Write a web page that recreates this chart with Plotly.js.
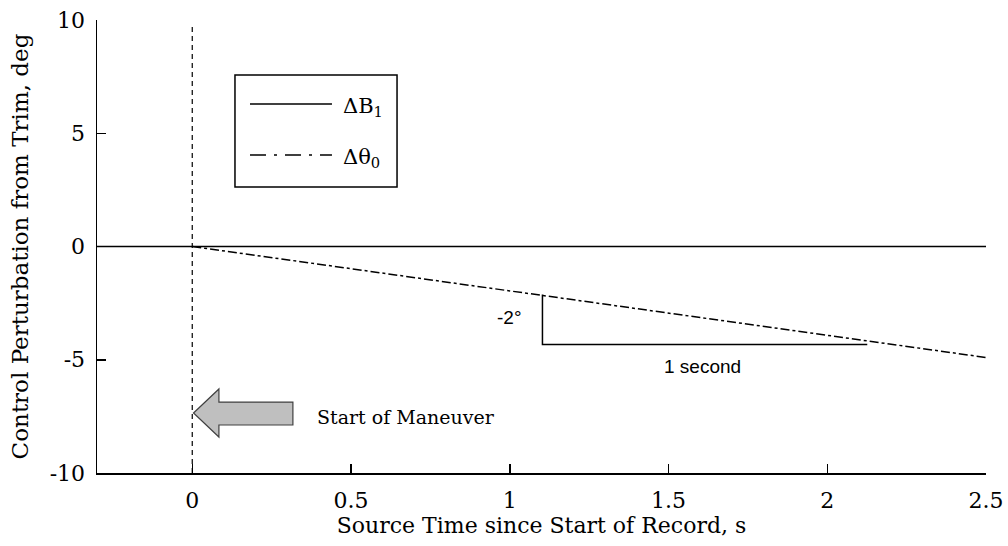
<!DOCTYPE html>
<html>
<head>
<meta charset="utf-8">
<script src="https://cdn.plot.ly/plotly-3.0.1.min.js"></script>
<style>
  html, body { margin: 0; padding: 0; background: #ffffff; }
  #chart { width: 1008px; height: 546px; }
</style>
</head>
<body>
<div id="chart"></div>
<script>
// ---- data ----
var timeB1 = [-0.3, 2.5];
var deltaB1 = [0, 0];
var timeTheta0 = [0, 2.5];
var deltaTheta0 = [0, -4.9];

var seriesNames = ['\u0394B<sub>1</sub>', '\u0394\u03b8<sub>0</sub>'];

var xTicks = [0, 0.5, 1, 1.5, 2, 2.5];
var xTickLabels = ['0', '0.5', '1', '1.5', '2', '2.5'];
var yTicks = [-10, -5, 0, 5, 10];
var yTickLabels = ['-10', '-5', '0', '5', '10'];

// start-of-maneuver marker
var maneuverX = [0, 0];
var maneuverY = [-10, 9.8];

// slope triangle (-2 deg per 1 second)
var slopeX = [1.103, 1.103, 2.126];
var slopeY = [-2.12, -4.33, -4.33];

// arrow polygon (tip, head top, body top, tail top, tail bottom, body bottom, head bottom)
var arrowX = [0.004, 0.084, 0.084, 0.317, 0.317, 0.084, 0.084];
var arrowY = [-7.35, -6.29, -6.87, -6.87, -7.88, -7.88, -8.41];

var serif = 'DejaVu Serif, Liberation Serif, serif';
var sans = 'Liberation Sans, Arial, sans-serif';

var traces = [
  {
    x: timeB1, y: deltaB1, type: 'scatter', mode: 'lines',
    name: seriesNames[0], showlegend: false,
    line: { color: '#000000', width: 1.5 }
  },
  {
    x: timeTheta0, y: deltaTheta0, type: 'scatter', mode: 'lines',
    name: seriesNames[1], showlegend: false,
    line: { color: '#000000', width: 1.5, dash: 'dashdot' }
  }
];

function pathFrom(xs, ys, close) {
  var p = '';
  for (var i = 0; i < xs.length; i++) p += (i === 0 ? 'M' : 'L') + xs[i] + ',' + ys[i];
  return close ? p + 'Z' : p;
}

// legend box drawn by hand (paper coordinates)
var legBox = { x0: 0.1552, x1: 0.3375, y0: 0.6313, y1: 0.8786 };
var legLineX = [0.1721, 0.2643];
var legRowY = [0.8146, 0.7020];
var legTextX = 0.2745;

var layout = {
  width: 1008, height: 546,
  paper_bgcolor: '#ffffff', plot_bgcolor: '#ffffff',
  margin: { l: 97, r: 22, t: 20, b: 73 },
  font: { family: serif, size: 22, color: '#000000' },
  showlegend: false,
  xaxis: {
    range: [-0.3, 2.5], showgrid: false, zeroline: false,
    showline: true, linecolor: '#000000', linewidth: 1.5, mirror: false,
    ticks: 'inside', ticklen: 9, tickwidth: 1.5, tickcolor: '#000000',
    tickmode: 'array', tickvals: xTicks, ticktext: xTickLabels,
    ticklabelstandoff: 7,
    tickfont: { family: serif, size: 22, color: '#000000' },
    title: { text: 'Source Time since Start of Record, s', font: { family: serif, size: 22, color: '#000000' }, standoff: 0 }
  },
  yaxis: {
    range: [-10, 10], showgrid: false, zeroline: false,
    showline: true, linecolor: '#000000', linewidth: 1.5, mirror: false,
    ticks: 'inside', ticklen: 9, tickwidth: 1.5, tickcolor: '#000000',
    tickmode: 'array', tickvals: yTicks, ticktext: yTickLabels,
    ticklabelstandoff: 6,
    tickfont: { family: serif, size: 22, color: '#000000' },
    title: { text: 'Control Perturbation from Trim, deg', font: { family: serif, size: 23, color: '#000000' }, standoff: 14 }
  },
  shapes: [
    { type: 'line', xref: 'x', yref: 'y', x0: maneuverX[0], x1: maneuverX[1], y0: maneuverY[0], y1: maneuverY[1],
      line: { color: '#000000', width: 1.2, dash: '5px,4px' } },
    { type: 'path', xref: 'x', yref: 'y', path: pathFrom(slopeX, slopeY, false),
      line: { color: '#000000', width: 1.5 } },
    { type: 'path', xref: 'x', yref: 'y', path: pathFrom(arrowX, arrowY, true),
      fillcolor: '#bfbfbf', line: { color: '#404040', width: 1.2 } },
    // legend
    { type: 'rect', xref: 'paper', yref: 'paper', x0: legBox.x0, x1: legBox.x1, y0: legBox.y0, y1: legBox.y1,
      fillcolor: '#ffffff', line: { color: '#000000', width: 1.5 } },
    { type: 'line', xref: 'paper', yref: 'paper', x0: legLineX[0], x1: legLineX[1], y0: legRowY[0], y1: legRowY[0],
      line: { color: '#000000', width: 1.5 } },
    { type: 'line', xref: 'paper', yref: 'paper', x0: legLineX[0], x1: legLineX[1], y0: legRowY[1], y1: legRowY[1],
      line: { color: '#000000', width: 1.5, dash: '16px,8px,3px,8px' } }
  ],
  annotations: [
    { xref: 'x', yref: 'y', x: 0.673, y: -7.53, text: 'Start of Maneuver', showarrow: false,
      font: { family: serif, size: 19, color: '#000000' } },
    { xref: 'x', yref: 'y', x: 1.0, y: -3.15, text: '-2\u00b0', showarrow: false,
      font: { family: sans, size: 19, color: '#000000' } },
    { xref: 'x', yref: 'y', x: 1.607, y: -5.3, text: '1 second', showarrow: false,
      font: { family: sans, size: 19, color: '#000000' } },
    { xref: 'paper', yref: 'paper', x: legTextX, y: legRowY[0], xanchor: 'left', yanchor: 'middle',
      text: seriesNames[0], showarrow: false, yshift: -3,
      font: { family: serif, size: 21, color: '#000000' } },
    { xref: 'paper', yref: 'paper', x: legTextX, y: legRowY[1], xanchor: 'left', yanchor: 'middle',
      text: seriesNames[1], showarrow: false, yshift: -3,
      font: { family: serif, size: 21, color: '#000000' } }
  ]
};

Plotly.newPlot('chart', traces, layout, { displayModeBar: false, staticPlot: true });
</script>
</body>
</html>
